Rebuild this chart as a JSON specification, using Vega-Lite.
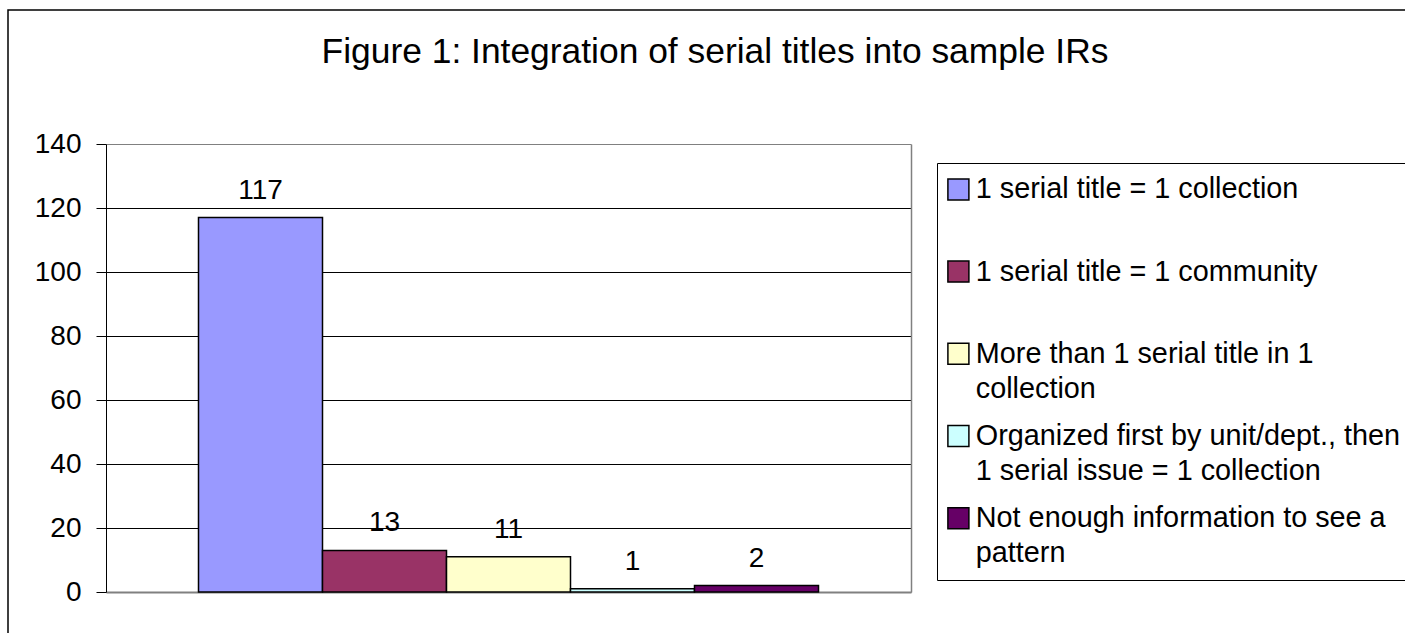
{
  "$schema": "https://vega.github.io/schema/vega-lite/v6.json",
  "width": 1402,
  "height": 628,
  "autosize": {"type": "none"},
  "padding": {"left": 8, "top": 10, "right": 0, "bottom": 0},
  "background": "white",
  "config": {"view": {"stroke": "black", "strokeWidth": 1.5}, "font": "Liberation Sans"},
  "title": {
    "text": "Figure 1: Integration of serial titles into sample IRs",
    "fontSize": 35.4,
    "font": "Liberation Sans",
    "fontWeight": "normal",
    "color": "black",
    "anchor": "middle",
    "baseline": "alphabetic",
    "offset": -88,
    "dx": 6
  },
  "data": {
    "values": [
      {"category": "1 serial title = 1 collection", "count": 117},
      {"category": "1 serial title = 1 community", "count": 13},
      {"category": "More than 1 serial title in 1 collection", "count": 11},
      {"category": "Organized first by unit/dept., then 1 serial issue = 1 collection", "count": 1},
      {"category": "Not enough information to see a pattern", "count": 2}
    ]
  },
  "encoding": {
    "x": {
      "field": "category",
      "type": "nominal",
      "sort": null,
      "scale": {"range": [98, 903], "paddingInner": 0, "paddingOuter": 0.746},
      "axis": {"orient": "bottom", "offset": -46, "labels": false, "ticks": false, "title": null, "domainColor": "#808080", "domainWidth": 2, "grid": false}
    }
  },
  "layer": [
    {
      "mark": {"type": "bar", "stroke": "black", "strokeWidth": 1.5},
      "encoding": {
        "y": {
          "field": "count",
          "type": "quantitative",
          "scale": {"domain": [0, 140], "range": [582, 134], "nice": false},
          "axis": {
            "orient": "left",
            "offset": -98,
            "values": [0, 20, 40, 60, 80, 100, 120, 140],
            "title": null,
            "grid": true,
            "gridColor": {"condition": {"test": "datum.value === 0 || datum.value === 140", "value": "#808080"}, "value": "black"},
            "gridWidth": 1,
            "domainColor": "black",
            "tickColor": "black",
            "tickSize": 10,
            "labelFontSize": 28,
            "labelColor": "black",
            "labelPadding": 15,
            "labelFont": "Liberation Sans"
          }
        },
        "color": {
          "field": "category",
          "type": "nominal",
          "scale": {
            "domain": [
              "1 serial title = 1 collection",
              "1 serial title = 1 community",
              "More than 1 serial title in 1 collection",
              "Organized first by unit/dept., then 1 serial issue = 1 collection",
              "Not enough information to see a pattern"
            ],
            "range": ["#9999FF", "#993366", "#FFFFCC", "#CCFFFF", "#660066"]
          },
          "legend": {
            "orient": "none",
            "legendX": 929,
            "legendY": 153,
            "title": null,
            "strokeColor": "black",
            "fillColor": "white",
            "padding": 12,
            "symbolType": "square",
            "symbolSize": 441,
            "symbolStrokeColor": "black",
            "symbolStrokeWidth": 1.5,
            "symbolOpacity": 1,
            "symbolOffset": -5,
            "labelFontSize": 28.8,
            "labelFont": "Liberation Sans",
            "labelColor": "black",
            "labelLimit": 700,
            "labelOffset": 3,
            "rowPadding": 17.2,
            "labelBaseline": "middle",
            "labelExpr": "datum.label == 'More than 1 serial title in 1 collection' ? ['More than 1 serial title in 1', 'collection'] : datum.label == 'Organized first by unit/dept., then 1 serial issue = 1 collection' ? ['Organized first by unit/dept., then', '1 serial issue = 1 collection'] : datum.label == 'Not enough information to see a pattern' ? ['Not enough information to see a', 'pattern'] : [datum.label, '']",
            "encode": {"labels": {"update": {"lineHeight": {"value": 35}}}}
          }
        }
      }
    },
    {
      "mark": {"type": "text", "baseline": "alphabetic", "dy": -19, "fontSize": 28, "font": "Liberation Sans", "color": "black"},
      "encoding": {
        "text": {"field": "count", "type": "quantitative"},
        "y": {
          "field": "count",
          "type": "quantitative",
          "axis": {"orient": "right", "offset": -499, "labels": false, "ticks": false, "grid": false, "title": null, "domainColor": "#808080", "domainWidth": 1.5}
        }
      }
    }
  ],
  "resolve": {"axis": {"y": "independent"}}
}
